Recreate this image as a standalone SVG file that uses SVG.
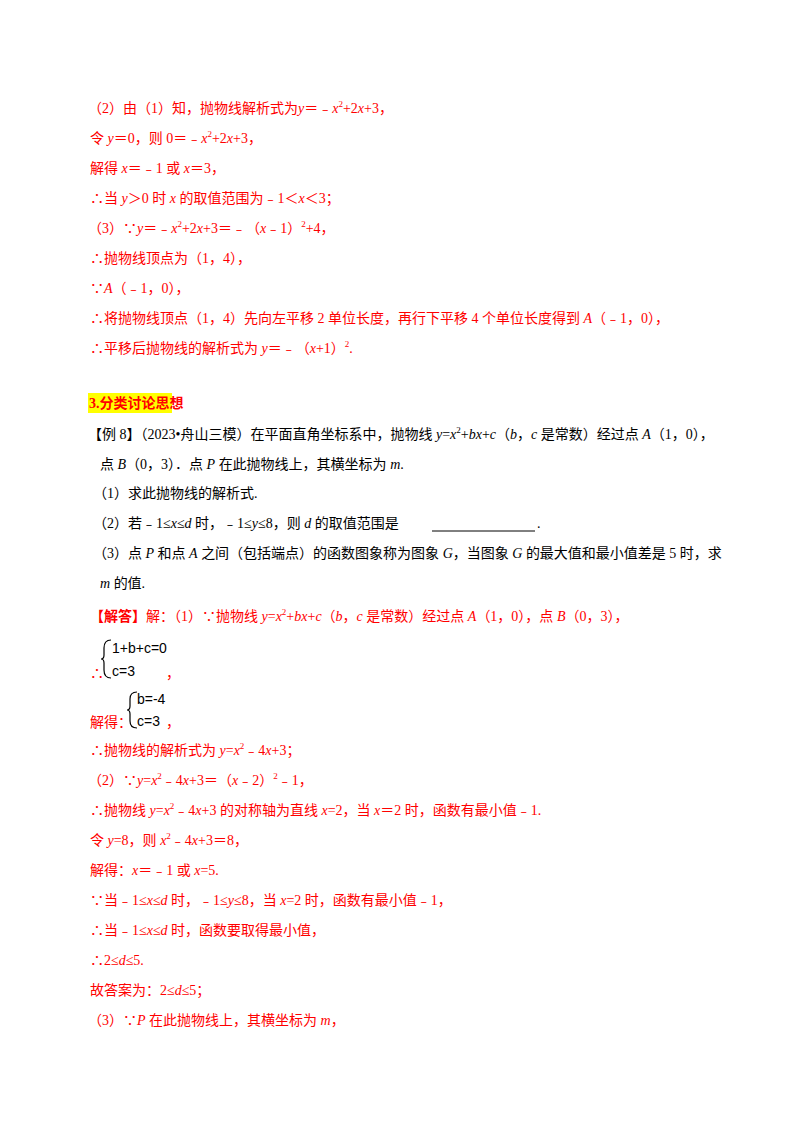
<svg xmlns="http://www.w3.org/2000/svg" width="800" height="1132" viewBox="0 0 800 1132">
<style>
text{font-family:"Liberation Serif","Noto Sans CJK SC",serif;font-size:14px;fill:#000}
.r{fill:#ff0000}
.i{font-style:italic}
.s{font-size:9px}
</style>
<rect width="800" height="1132" fill="#fff"/>
<g class="r">
<text class="r" x="88" y="113">（2）由（1）知，抛物线解析式为<tspan class="i">y</tspan>＝﹣<tspan class="i">x</tspan><tspan class="s" dy="-6">2</tspan><tspan dy="6">+2</tspan><tspan class="i">x</tspan>+3，</text>
<text class="r" x="90" y="143">令 <tspan class="i">y</tspan>＝0，则 0＝﹣<tspan class="i">x</tspan><tspan class="s" dy="-6">2</tspan><tspan dy="6">+2</tspan><tspan class="i">x</tspan>+3，</text>
<text class="r" x="90" y="173">解得 <tspan class="i">x</tspan>＝﹣1 或 <tspan class="i">x</tspan>＝3，</text>
<text class="r" x="90" y="203">∴当 <tspan class="i">y</tspan>＞0 时 <tspan class="i">x</tspan> 的取值范围为﹣1＜<tspan class="i">x</tspan>＜3；</text>
<text class="r" x="88" y="233">（3）∵<tspan class="i">y</tspan>＝﹣<tspan class="i">x</tspan><tspan class="s" dy="-6">2</tspan><tspan dy="6">+2</tspan><tspan class="i">x</tspan>+3＝﹣（<tspan class="i">x</tspan>﹣1）<tspan class="s" dy="-6">2</tspan><tspan dy="6">+4，</tspan></text>
<text class="r" x="90" y="263">∴抛物线顶点为（1，4），</text>
<text class="r" x="90" y="293">∵<tspan class="i">A</tspan>（﹣1，0），</text>
<text class="r" x="90" y="323">∴将抛物线顶点（1，4）先向左平移 2 单位长度，再行下平移 4 个单位长度得到 <tspan class="i">A</tspan>（﹣1，0），</text>
<text class="r" x="90" y="353">∴平移后抛物线的解析式为 <tspan class="i">y</tspan>＝﹣（<tspan class="i">x</tspan>+1）<tspan class="s" dy="-6">2</tspan><tspan dy="6">.</tspan></text>
</g>
<rect x="88" y="393" width="84" height="20" fill="#ffff00"/>
<text class="r" x="89" y="408" font-weight="bold">3.分类讨论思想</text>
<text x="88" y="439">【例 8】（2023•舟山三模）在平面直角坐标系中，抛物线 <tspan class="i">y</tspan>=<tspan class="i">x</tspan><tspan class="s" dy="-6">2</tspan><tspan dy="6">+</tspan><tspan class="i">bx</tspan>+<tspan class="i">c</tspan>（<tspan class="i">b</tspan>，<tspan class="i">c</tspan> 是常数）经过点 <tspan class="i">A</tspan>（1，0），</text>
<text x="100" y="469">点 <tspan class="i">B</tspan>（0，3）．点 <tspan class="i">P</tspan> 在此抛物线上，其横坐标为 <tspan class="i">m</tspan>.</text>
<text x="93" y="498">（1）求此抛物线的解析式.</text>
<text x="93" y="528">（2）若﹣1≤<tspan class="i">x</tspan>≤<tspan class="i">d</tspan> 时，﹣1≤<tspan class="i">y</tspan>≤8，则 <tspan class="i">d</tspan> 的取值范围是</text>
<text x="537" y="528">.</text>
<line x1="432" y1="531" x2="535" y2="531" stroke="#000" stroke-width="1"/>
<text x="93" y="558">（3）点 <tspan class="i">P</tspan> 和点 <tspan class="i">A</tspan> 之间（包括端点）的函数图象称为图象 <tspan class="i">G</tspan>，当图象 <tspan class="i">G</tspan> 的最大值和最小值差是 5 时，求</text>
<text x="100" y="588"><tspan class="i">m</tspan> 的值.</text>
<g>
<text class="r" x="90" y="621"><tspan font-weight="bold">【解答】</tspan>解：（1）∵抛物线 <tspan class="i">y</tspan>=<tspan class="i">x</tspan><tspan class="s" dy="-6">2</tspan><tspan dy="6">+</tspan><tspan class="i">bx</tspan>+<tspan class="i">c</tspan>（<tspan class="i">b</tspan>，<tspan class="i">c</tspan> 是常数）经过点 <tspan class="i">A</tspan>（1，0），点 <tspan class="i">B</tspan>（0，3），</text>
<text class="r" x="90" y="678">∴</text>
<path d="M111,640 Q104,640 104,648 L104,655 Q104,659 101,659 Q104,659 104,663 L104,670 Q104,678 111,678" fill="none" stroke="#000" stroke-width="1.2"/>
<text x="112" y="653" style="font-family:'Liberation Sans',sans-serif">1+b+c=0</text>
<text x="112" y="676" style="font-family:'Liberation Sans',sans-serif">c=3</text>
<text class="r" x="166" y="678">，</text>
<text class="r" x="90" y="727">解得：</text>
<path d="M137,692 Q130,692 130,699 L130,706 Q130,710 127,710 Q130,710 130,714 L130,721 Q130,728 137,728" fill="none" stroke="#000" stroke-width="1.2"/>
<text x="137" y="704" style="font-family:'Liberation Sans',sans-serif">b=-4</text>
<text x="137" y="726" style="font-family:'Liberation Sans',sans-serif">c=3</text>
<text class="r" x="166" y="727">，</text>
<text class="r" x="90" y="755">∴抛物线的解析式为 <tspan class="i">y</tspan>=<tspan class="i">x</tspan><tspan class="s" dy="-6">2</tspan><tspan dy="6">﹣4</tspan><tspan class="i">x</tspan>+3；</text>
<text class="r" x="88" y="785">（2）∵<tspan class="i">y</tspan>=<tspan class="i">x</tspan><tspan class="s" dy="-6">2</tspan><tspan dy="6">﹣4</tspan><tspan class="i">x</tspan>+3＝（<tspan class="i">x</tspan>﹣2）<tspan class="s" dy="-6">2</tspan><tspan dy="6">﹣1，</tspan></text>
<text class="r" x="90" y="815">∴抛物线 <tspan class="i">y</tspan>=<tspan class="i">x</tspan><tspan class="s" dy="-6">2</tspan><tspan dy="6">﹣4</tspan><tspan class="i">x</tspan>+3 的对称轴为直线 <tspan class="i">x</tspan>=2，当 <tspan class="i">x</tspan>＝2 时，函数有最小值﹣1.</text>
<text class="r" x="90" y="845">令 <tspan class="i">y</tspan>=8，则 <tspan class="i">x</tspan><tspan class="s" dy="-6">2</tspan><tspan dy="6">﹣4</tspan><tspan class="i">x</tspan>+3＝8，</text>
<text class="r" x="90" y="875">解得：<tspan class="i">x</tspan>＝﹣1 或 <tspan class="i">x</tspan>=5.</text>
<text class="r" x="90" y="905">∵当﹣1≤<tspan class="i">x</tspan>≤<tspan class="i">d</tspan> 时，﹣1≤<tspan class="i">y</tspan>≤8，当 <tspan class="i">x</tspan>=2 时，函数有最小值﹣1，</text>
<text class="r" x="90" y="935">∴当﹣1≤<tspan class="i">x</tspan>≤<tspan class="i">d</tspan> 时，函数要取得最小值，</text>
<text class="r" x="90" y="965">∴2≤<tspan class="i">d</tspan>≤5.</text>
<text class="r" x="90" y="995">故答案为：2≤<tspan class="i">d</tspan>≤5；</text>
<text class="r" x="88" y="1025">（3）∵<tspan class="i">P</tspan> 在此抛物线上，其横坐标为 <tspan class="i">m</tspan>，</text>
</g>
</svg>
